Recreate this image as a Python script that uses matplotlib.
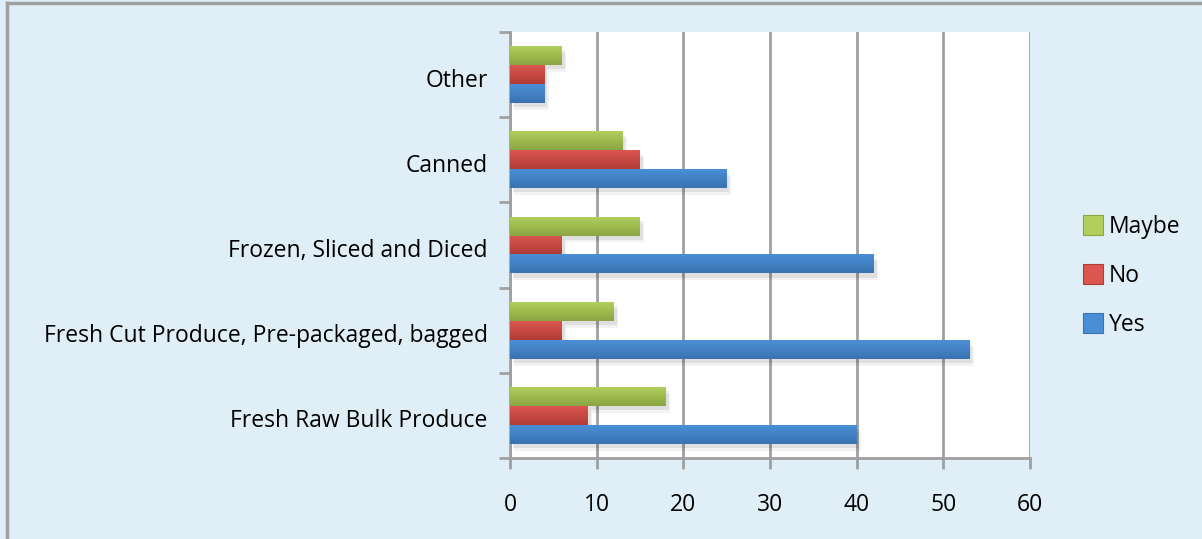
import matplotlib
matplotlib.use('Agg')
import matplotlib.pyplot as plt
import matplotlib.patheffects as pe
from matplotlib.lines import Line2D
from matplotlib.colors import LinearSegmentedColormap
import numpy as np

categories = [
    "Fresh Raw Bulk Produce",
    "Fresh Cut Produce, Pre-packaged, bagged",
    "Frozen, Sliced and Diced",
    "Canned",
    "Other",
]
yes_vals = [40, 53, 42, 25, 4]
no_vals = [9, 6, 6, 15, 4]
maybe_vals = [18, 12, 15, 13, 6]

series = [
    ("Yes", yes_vals, ("#4a8fd6", "#3a73b0")),
    ("No", no_vals, ("#dc5650", "#b13c37")),
    ("Maybe", maybe_vals, ("#b0cf5c", "#8aa542")),
]

BG = "#e0eff7"
GRID = "#a0a0a0"

plt.rcParams['font.family'] = ['Open Sans', 'DejaVu Sans']

fig = plt.figure(figsize=(12.02, 5.39), dpi=100, facecolor=BG)
ax = fig.add_axes([510 / 1202, 1 - 458 / 539, 520 / 1202, 426 / 539])
ax.set_facecolor("white")

bar_h = 0.222
y = np.arange(len(categories))
offsets = [-bar_h, 0, bar_h]

# soft drop shadow under each bar
shadow = [pe.SimplePatchShadow(offset=(2, -3), shadow_rgbFace="#000000", alpha=0.08),
          pe.SimplePatchShadow(offset=(3, -5), shadow_rgbFace="#000000", alpha=0.05),
          pe.Normal()]

for (name, vals, (top_c, bot_c)), off in zip(series, offsets):
    bars = ax.barh(y + off, vals, height=bar_h, color=bot_c, zorder=3,
                   linewidth=0, label=name)
    cmap = LinearSegmentedColormap.from_list(name, [bot_c, top_c])
    grad = np.linspace(0, 1, 64).reshape(-1, 1)
    for b in bars:
        b.set_path_effects(shadow)
        x0, y0 = b.get_x(), b.get_y()
        w, h = b.get_width(), b.get_height()
        im = ax.imshow(grad, cmap=cmap, aspect='auto', origin='lower',
                       extent=(x0, x0 + w, y0, y0 + h), zorder=4,
                       interpolation='bilinear')
        im.set_clip_path(b)

ax.set_xlim(0, 60)
ax.set_ylim(-0.5, len(categories) - 0.5)
ax.set_xticks(range(0, 61, 10))
ax.xaxis.grid(True, color=GRID, linewidth=2, zorder=1)
ax.set_axisbelow(True)

ax.set_yticks(np.arange(-0.5, len(categories), 1.0))
ax.set_yticklabels([])
ax.set_yticks(y - 0.035, minor=True)
ax.set_yticklabels(categories, minor=True)
ax.tick_params(axis='y', which='minor', length=0, pad=16, labelsize=16.5)
ax.tick_params(axis='y', which='major', length=8, width=2, color=GRID)
ax.tick_params(axis='x', length=8, width=2, color=GRID, labelsize=16.5, pad=17)

for s in ['top', 'right']:
    ax.spines[s].set_visible(False)
for s in ['left', 'bottom']:
    ax.spines[s].set_color(GRID)
    ax.spines[s].set_linewidth(2)

handles = [Line2D([], [], marker='s', linestyle='none', markersize=14,
                  markerfacecolor=c[0], markeredgecolor=c[1], markeredgewidth=0.8, label=n)
           for n, _, c in reversed(series)]
fig.legend(handles=handles, loc='center left', bbox_to_anchor=(1072 / 1202, 1 - 276 / 539),
           frameon=False, fontsize=16.5, handlelength=0.8, handletextpad=0.3,
           labelspacing=1.1, borderpad=0)

fig.add_artist(Line2D([7 / 1202, 7 / 1202], [0, 1 - 3 / 539], color="#a0a0a0", linewidth=2.5,
                      transform=fig.transFigure))
fig.add_artist(Line2D([7 / 1202, 1], [1 - 3 / 539, 1 - 3 / 539], color="#a0a0a0", linewidth=2.5,
                      transform=fig.transFigure))

fig.savefig("out.png", dpi=100, facecolor=BG)
